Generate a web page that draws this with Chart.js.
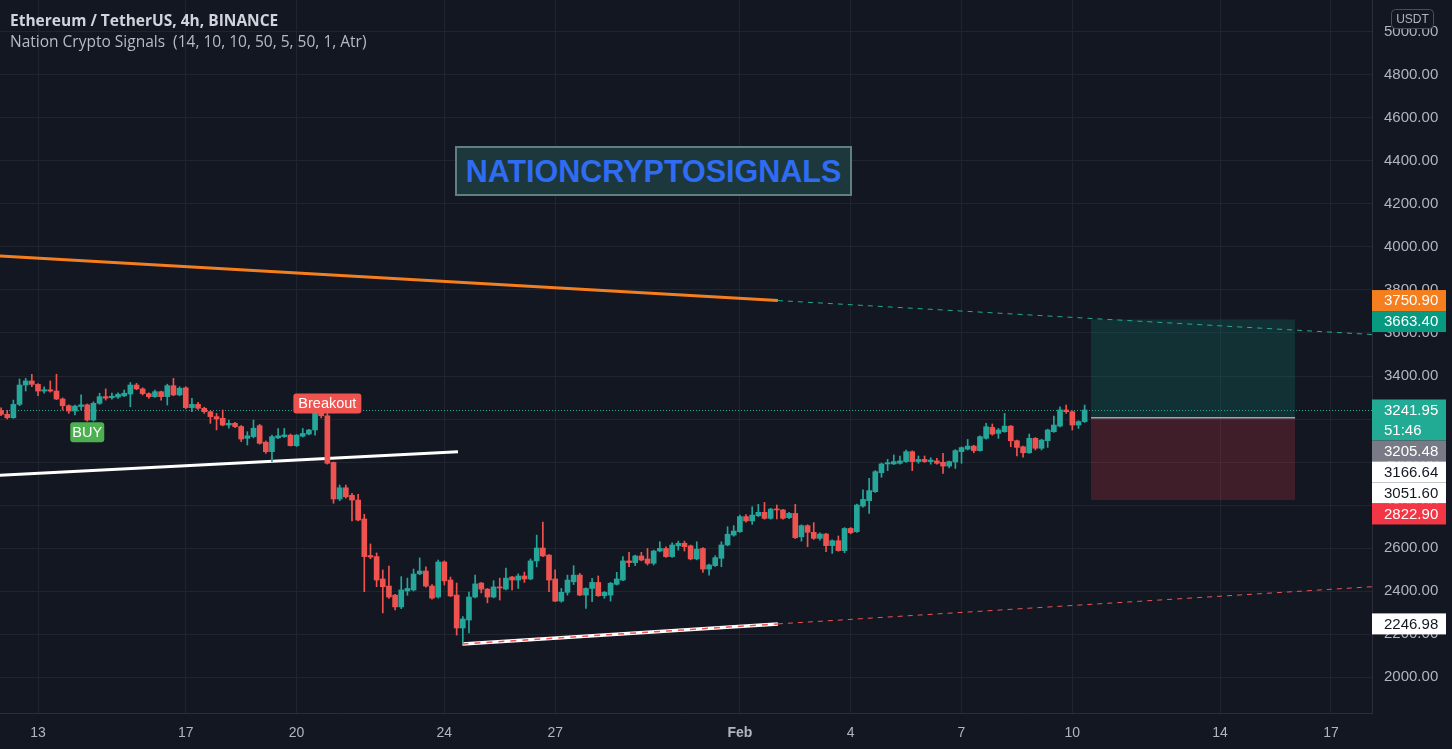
<!DOCTYPE html>
<html><head><meta charset="utf-8">
<script src="https://cdn.jsdelivr.net/npm/chart.js@4.4.1/dist/chart.umd.min.js"></script>
<style>
html,body{margin:0;padding:0;background:#131722;overflow:hidden}
#wrap{position:relative;width:1452px;height:749px}
canvas{position:absolute;left:0;top:0}
.t1{position:absolute;left:10px;top:9px;font:bold 15.5px "Open Sans",sans-serif;color:#d1d4dc;white-space:nowrap}
.t2{position:absolute;left:10px;top:30px;font:15.5px "Open Sans",sans-serif;color:#b8bbc3;white-space:pre}
.brand{position:absolute;left:455px;top:146px;width:397px;height:50px;box-sizing:border-box;border:2px solid #5f8083;background:#1c383d;color:#2f6cf2;font:bold 30.5px "Liberation Sans",sans-serif;display:flex;align-items:center;justify-content:center;letter-spacing:0px}
</style></head>
<body><div id="wrap"><canvas id="c" width="1452" height="749"></canvas>
<div class="t1">Ethereum / TetherUS, 4h, BINANCE</div>
<div class="t2">Nation Crypto Signals  (14, 10, 10, 50, 5, 50, 1, Atr)</div>
<div class="brand">NATIONCRYPTOSIGNALS</div>
</div>
<script>
// ---- data (ETH/USDT 4h, starting Jan 12 00:00) ----
const startDay = 12;
const barsPerDay = 6;
const opens = [3240,3222,3206,3268,3358,3377,3361,3330,3336,3330,3293,3262,3237,3258,3266,3195,3273,3304,3299,3302,3308,3316,3358,3340,3318,3304,3327,3304,3355,3312,3345,3253,3268,3250,3234,3211,3203,3172,3180,3165,3110,3118,3169,3092,3048,3112,3118,3125,3076,3120,3130,3149,3235,3215,2998,2828,2880,2845,2823,2735,2565,2560,2456,2423,2381,2326,2400,2405,2480,2493,2423,2372,2535,2451,2381,2228,2265,2372,2437,2409,2372,2419,2409,2465,2451,2470,2456,2540,2600,2567,2456,2353,2394,2443,2474,2381,2412,2440,2378,2381,2431,2451,2540,2532,2563,2549,2529,2586,2598,2560,2610,2622,2610,2549,2598,2502,2518,2552,2614,2660,2676,2746,2726,2750,2766,2738,2781,2777,2741,2761,2652,2704,2673,2645,2665,2611,2634,2588,2691,2676,2795,2820,2862,2950,2991,2991,2994,3002,3048,3002,3012,3002,3005,2999,2981,3000,3048,3060,3074,3053,3110,3161,3133,3141,3167,3099,3071,3043,3110,3064,3099,3141,3167,3242,3234,3172,3188];
const highs = [3252,3240,3288,3386,3389,3408,3365,3350,3377,3408,3298,3266,3265,3312,3270,3280,3320,3340,3320,3322,3335,3370,3366,3345,3322,3335,3330,3362,3389,3350,3350,3296,3277,3255,3238,3226,3242,3195,3185,3170,3141,3195,3175,3098,3125,3156,3156,3130,3128,3156,3152,3273,3252,3240,3000,2893,2893,2854,2850,2757,2619,2577,2498,2516,2384,2467,2460,2502,2554,2512,2430,2544,2540,2465,2437,2281,2395,2474,2440,2412,2448,2460,2507,2468,2480,2488,2549,2660,2720,2570,2498,2412,2474,2518,2482,2415,2459,2470,2398,2440,2487,2560,2580,2567,2580,2598,2590,2629,2606,2624,2632,2632,2614,2629,2602,2525,2564,2629,2699,2704,2753,2756,2792,2803,2812,2785,2800,2780,2766,2803,2708,2708,2718,2670,2668,2638,2656,2695,2695,2804,2870,2924,2960,2995,3012,3033,3028,3056,3052,3028,3028,3020,3017,3040,3005,3058,3070,3105,3078,3122,3180,3177,3156,3226,3170,3102,3074,3130,3114,3106,3153,3214,3257,3265,3238,3192,3265];
const lows = [3216,3200,3203,3262,3330,3350,3309,3320,3325,3290,3242,3226,3219,3242,3190,3190,3268,3288,3292,3296,3304,3257,3336,3312,3296,3300,3288,3265,3308,3308,3248,3234,3245,3226,3180,3149,3168,3157,3160,3095,3079,3112,3083,3040,3001,3108,3114,3074,3072,3116,3126,3125,3205,2990,2808,2820,2832,2726,2726,2397,2550,2420,2298,2365,2312,2318,2380,2400,2476,2418,2362,2367,2428,2374,2195,2158,2205,2368,2391,2345,2368,2358,2405,2405,2412,2440,2452,2512,2560,2397,2350,2348,2381,2430,2378,2319,2350,2375,2366,2353,2428,2448,2513,2518,2540,2521,2521,2582,2556,2556,2590,2586,2545,2545,2487,2474,2514,2513,2610,2655,2672,2720,2710,2746,2734,2734,2735,2734,2737,2644,2632,2606,2640,2637,2583,2575,2585,2578,2666,2672,2790,2761,2858,2929,2960,2988,2990,2998,2960,2994,2998,2990,2990,2947,2973,2970,2994,3056,3043,3050,3106,3125,3110,3138,3071,3028,3022,3040,3056,3056,3068,3138,3163,3226,3149,3156,3184];
const closes = [3222,3206,3268,3358,3377,3361,3330,3336,3330,3293,3262,3237,3260,3266,3195,3273,3304,3297,3306,3315,3320,3358,3340,3318,3304,3327,3304,3355,3312,3343,3253,3268,3250,3234,3211,3200,3172,3180,3165,3107,3122,3157,3087,3048,3118,3122,3126,3076,3125,3133,3149,3242,3215,2994,2828,2880,2838,2823,2730,2560,2558,2451,2420,2372,2326,2405,2412,2479,2493,2423,2367,2535,2447,2377,2228,2270,2372,2433,2409,2372,2419,2414,2460,2451,2470,2456,2540,2600,2563,2451,2353,2394,2451,2474,2381,2412,2440,2378,2394,2436,2456,2540,2532,2563,2544,2529,2586,2598,2560,2614,2622,2606,2549,2595,2502,2521,2555,2614,2664,2679,2746,2726,2753,2766,2738,2781,2777,2738,2761,2648,2704,2673,2645,2665,2611,2634,2588,2691,2671,2800,2826,2867,2955,2991,2997,3002,3005,3048,3002,3012,3002,3009,2994,2981,3002,3053,3067,3074,3053,3118,3164,3130,3149,3167,3099,3068,3043,3110,3064,3102,3149,3172,3242,3234,3172,3188,3241.95];
const times = opens.map((_, i) => startDay + i / barsPerDay);

// axis ticks (x in days of Jan; Feb 1 = 32)
const xMin = 11.9713, xMax = 49.1123;
const xTickValues = [13, 17, 20, 24, 27, 32, 35, 38, 41, 45, 48];
const xTickLabels = ['13', '17', '20', '24', '27', 'Feb', '4', '7', '10', '14', '17'];
const yMin = 1832.6, yMax = 5148.8;
const yTickValues = [2000, 2200, 2400, 2600, 2800, 3000, 3200, 3400, 3600, 3800, 4000, 4200, 4400, 4600, 4800, 5000];

// drawn trend lines (time, price)
const resistanceT = [11.9713, 33.03], resistanceP = [3958, 3750.90];
const resistanceExtT = [33.03, 49.1123], resistanceExtP = [3750.90, 3593];
const supportT = [11.9713, 24.37], supportP = [2938, 3048];
const lowerT = [24.49, 33.03], lowerP = [2153.5, 2246.98];
const lowerExtT = [33.03, 49.1123], lowerExtP = [2246.98, 2420];

// long position tool
const positionT = [41.505, 47.03];
const positionTarget = 3663.40, positionEntry = 3205.48, positionStop = 2822.90;

// signals
const buyIndex = 14, breakoutIndex = 53;

// price scale tags
const tagPrices = [3750.90, 3663.40, 3241.95, 3205.48, 3166.64, 3051.60, 2822.90, 2246.98];
const tagTexts = ['3750.90', '3663.40', '3241.95', '3205.48', '3166.64', '3051.60', '2822.90', '2246.98'];
const tagExtra = ['', '', '51:46', '', '', '', '', ''];
const tagBg = ['#f57f1f', '#089981', '#22ab94', '#787b86', '#ffffff', '#ffffff', '#f23645', '#ffffff'];
const tagFg = ['#ffffff', '#ffffff', '#ffffff', '#ffffff', '#131722', '#131722', '#ffffff', '#131722'];

// ---- rendering ----
const GREEN = '#26a69a', RED = '#ef5350';
const FONT = '"Liberation Sans", sans-serif';
const candleColor = i => closes[i] >= opens[i] ? GREEN : RED;
const pts = (ts, ps) => ts.map((t, i) => ({x: t, y: ps[i]}));

function rrect(ctx, x, y, w, h, r) {
  ctx.beginPath();
  if (ctx.roundRect) ctx.roundRect(x, y, w, h, r); else ctx.rect(x, y, w, h);
}

const overlay = {
  id: 'overlay',
  beforeDatasetsDraw(chart) {
    const {ctx, chartArea: a, scales: {x, y}} = chart;
    ctx.save();
    ctx.beginPath(); ctx.rect(a.left, a.top, a.right - a.left, a.bottom - a.top); ctx.clip();
    const x0 = x.getPixelForValue(positionT[0]), x1 = x.getPixelForValue(positionT[1]);
    const yT = y.getPixelForValue(positionTarget), yE = y.getPixelForValue(positionEntry), yS = y.getPixelForValue(positionStop);
    ctx.fillStyle = 'rgba(8,153,129,0.2)'; ctx.fillRect(x0, yT, x1 - x0, yE - yT);
    ctx.fillStyle = 'rgba(242,54,69,0.2)'; ctx.fillRect(x0, yE, x1 - x0, yS - yE);
    ctx.strokeStyle = '#a3a6af'; ctx.lineWidth = 1.5;
    ctx.beginPath(); ctx.moveTo(x0, yE); ctx.lineTo(x1, yE); ctx.stroke();
    const yc = Math.round(y.getPixelForValue(closes[closes.length - 1])) + 0.5;
    ctx.setLineDash([1, 2]); ctx.strokeStyle = '#22ab94'; ctx.lineWidth = 1;
    ctx.beginPath(); ctx.moveTo(a.left, yc); ctx.lineTo(a.right, yc); ctx.stroke();
    ctx.restore();
  },
  afterDatasetsDraw(chart) {
    const {ctx, scales: {x, y}} = chart;
    ctx.save();
    ctx.font = '14.5px ' + FONT; ctx.textAlign = 'center'; ctx.textBaseline = 'middle';
    // BUY
    let cx = x.getPixelForValue(times[buyIndex]);
    let top = y.getPixelForValue(lows[buyIndex]) + 1;
    ctx.fillStyle = '#4caf50'; rrect(ctx, cx - 17, top, 34, 20, 3); ctx.fill();
    ctx.fillStyle = '#ffffff'; ctx.fillText('BUY', cx, top + 10.5);
    // Breakout
    cx = x.getPixelForValue(times[breakoutIndex]);
    const bottom = y.getPixelForValue(highs[breakoutIndex]) + 3;
    ctx.fillStyle = '#ef5350'; rrect(ctx, cx - 34, bottom - 20, 68, 20, 3); ctx.fill();
    ctx.fillStyle = '#ffffff'; ctx.fillText('Breakout', cx, bottom - 9.5);
    ctx.restore();
  },
  afterDraw(chart) {
    const {ctx, chartArea: a, scales: {y}} = chart;
    ctx.save();
    ctx.font = '15px ' + FONT; ctx.textAlign = 'left'; ctx.textBaseline = 'middle';
    let prevBottom = -1e9;
    tagPrices.forEach((p, i) => {
      const h = tagExtra[i] ? 41 : 21;
      let t = y.getPixelForValue(p) - 10.5;
      if (t < prevBottom) t = prevBottom;
      prevBottom = t + h;
      ctx.fillStyle = tagBg[i]; ctx.fillRect(a.right, t, 74, h);
      ctx.fillStyle = tagFg[i]; ctx.fillText(tagTexts[i], a.right + 12, t + 11);
      if (tagExtra[i]) ctx.fillText(tagExtra[i], a.right + 12, t + 31);
    });
    // currency badge
    ctx.fillStyle = '#131722'; ctx.strokeStyle = '#4a4e59'; ctx.lineWidth = 1;
    rrect(ctx, 1391.5, 9.5, 42, 19, 4); ctx.fill(); ctx.stroke();
    ctx.fillStyle = '#b2b5be'; ctx.font = '12px ' + FONT; ctx.textAlign = 'center';
    ctx.fillText('USDT', 1412.5, 19.5);
    ctx.restore();
  }
};

const lineDs = (ts, ps, color, width, dash, order) => ({
  type: 'line', data: pts(ts, ps), borderColor: color, borderWidth: width,
  borderDash: dash, pointRadius: 0, tension: 0, order: order, fill: false
});

new Chart(document.getElementById('c'), {
  type: 'bar',
  data: {
    datasets: [
      {label: 'wicks', data: times.map((t, i) => ({x: t, y: [lows[i], highs[i]]})),
       backgroundColor: c => candleColor(c.dataIndex), barThickness: 1, grouped: false, order: 1},
      {label: 'bodies', data: times.map((t, i) => ({x: t, y: [opens[i], closes[i]]})),
       backgroundColor: c => candleColor(c.dataIndex), barThickness: 5, minBarLength: 1, grouped: false, order: 0},
      lineDs(resistanceT, resistanceP, '#f57f1f', 3, [], 5),
      lineDs(resistanceExtT, resistanceExtP, '#22ab94', 1, [5, 5], 5),
      lineDs(supportT, supportP, '#ffffff', 3, [], 5),
      lineDs(lowerT, lowerP, '#ffffff', 3.5, [], 6),
      lineDs(lowerT, lowerP, '#ef5350', 1.5, [6, 6], 5),
      lineDs(lowerExtT, lowerExtP, '#ef5350', 1, [5, 5], 5)
    ]
  },
  options: {
    responsive: false, animation: false, devicePixelRatio: 1,
    layout: {padding: 0},
    plugins: {legend: {display: false}, tooltip: {enabled: false}},
    scales: {
      x: {
        type: 'linear', min: xMin, max: xMax, offset: false,
        grid: {color: '#20242f', offset: false, drawTicks: false},
        border: {color: '#2a2e39', width: 1},
        afterBuildTicks: s => { s.ticks = xTickValues.map(v => ({value: v})); },
        afterFit: s => { s.height = 36; s.paddingLeft = 0; s.paddingRight = 0; },
        ticks: {
          autoSkip: false, maxRotation: 0, padding: 12, color: '#b2b5be',
          font: c => ({family: FONT, size: 14, weight: (c.tick && c.tick.value === 32) ? 'bold' : 'normal'}),
          callback: v => xTickLabels[xTickValues.indexOf(v)]
        }
      },
      y: {
        type: 'linear', position: 'right', min: yMin, max: yMax, beginAtZero: false,
        grid: {color: '#20242f', drawTicks: false},
        border: {color: '#2a2e39', width: 1},
        afterBuildTicks: s => { s.ticks = yTickValues.map(v => ({value: v})); },
        afterFit: s => { s.width = 80; s.paddingTop = 0; s.paddingBottom = 0; },
        ticks: {padding: 12, color: '#b2b5be', font: {family: FONT, size: 15}, callback: v => Number(v).toFixed(2)}
      }
    }
  },
  plugins: [overlay]
});
</script>
</body></html>
